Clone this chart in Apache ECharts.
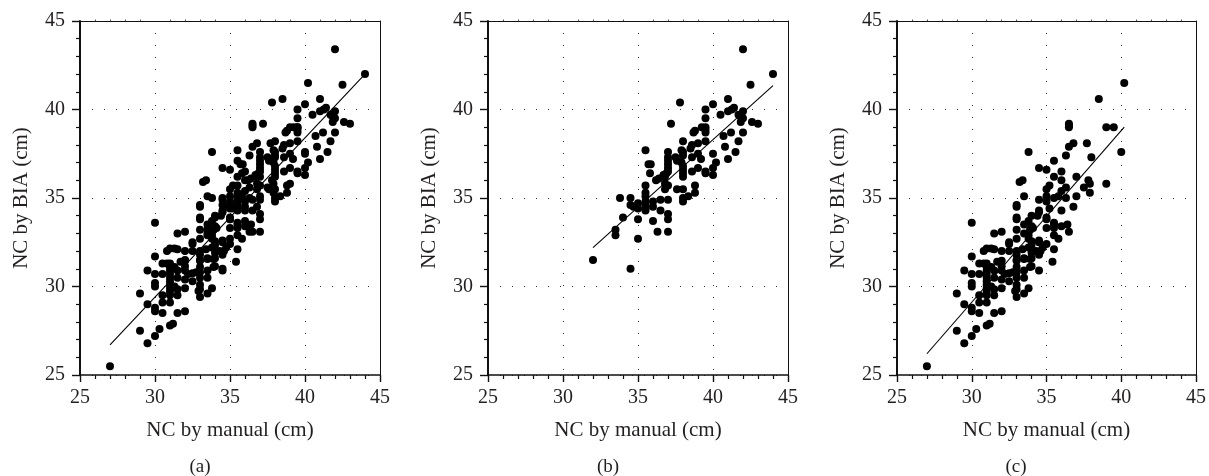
<!DOCTYPE html>
<html><head><meta charset="utf-8">
<script src="https://cdn.jsdelivr.net/npm/echarts@6/dist/echarts.min.js"></script>
<style>html,body{margin:0;padding:0;background:#fff}#c{width:1209px;height:476px}</style>
</head><body><div id="c"></div>
<script>
const pointsB=[[42,43.4],[44,42],[42.5,41.4],[37.8,40.4],[41,40.6],[40,40.3],[39.5,40],[41.4,40.1],[41.25,40],[41,39.9],[42,39.9],[40.5,39.7],[41.7,39.7],[41.85,39.6],[39.5,39.5],[42,39.5],[41.85,39.3],[42.6,39.3],[43,39.2],[37.2,39.2],[39.25,39],[39.5,39],[39.5,38.85],[38.8,38.8],[38.7,38.7],[39.5,38.7],[40.7,38.5],[41.2,38.7],[42,38.7],[41.7,38.2],[38,38.2],[39.5,38.2],[39,38.1],[38.6,38],[38.5,37.8],[40.8,37.9],[41.5,37.6],[41,37.2],[35.5,37.7],[37,37.6],[37.9,37.7],[38,37.6],[38,37.4],[39,37.5],[40,37.5],[38.6,37.3],[39.2,37.2],[37.5,37.3],[37.6,37.1],[37.9,37],[37,37.3],[37,37.1],[37,36.9],[37,36.7],[37,36.5],[40.2,37],[40,36.7],[39,36.7],[38.6,36.5],[39.5,36.5],[39.5,36.4],[40,36.3],[35.7,36.9],[35.85,36.9],[35.8,36.4],[38,36.8],[38,36.6],[38,36.4],[38,36.2],[36.2,36],[36.4,36.1],[36.7,36.3],[36.9,36.4],[36.8,36.2],[36.8,35.8],[37,35.7],[36.8,35.5],[37.6,35.5],[38,35.5],[38.8,35.7],[38.8,35.3],[38.35,35.1],[38,35],[38,34.8],[37,34.9],[36.5,34.9],[35.5,35.7],[35.5,35.3],[35.5,35.1],[33.8,35],[34.5,35],[34.5,34.6],[34.7,34.5],[35,34.7],[35,34.4],[35.5,34.8],[35.5,34.6],[35.5,34.4],[35.5,34.3],[36,34.8],[36,34.5],[36.5,34.3],[37,34.1],[37,33.8],[34,33.9],[35,33.8],[36,33.7],[36.3,33.1],[37,33.1],[33.5,33.2],[33.5,32.9],[35,32.7],[32,31.5],[34.5,31]];
const pointsC=[[40.2,41.5],[38.5,40.6],[39,39],[39.5,39],[40,37.6],[36.5,39.2],[36.5,39.1],[36.5,39],[36.5,37.9],[36.8,38.1],[37.7,38.1],[38,37.3],[36.3,37.4],[35.5,37.1],[34.5,36.7],[35,36.6],[33.8,37.6],[36,36.5],[37,36.2],[35.5,36.2],[36,36],[37.8,36],[37.9,35.8],[39,35.8],[37.5,35.6],[37.9,35.3],[37,35.1],[36.3,35.6],[36,35.4],[36.3,35],[35.5,35],[35.8,35.1],[35.2,35.7],[35,35.5],[35,35.1],[35,34.8],[34.5,34.9],[33.2,35.9],[33.4,36],[33.5,35.1],[33,34.6],[33,34.5],[36.8,34.5],[36,34.3],[35.2,34.4],[34.5,34.3],[34.5,34.2],[34.4,34],[34,34],[35,33.9],[35,33.8],[33,33.9],[33,33.8],[33.8,33.7],[33.5,33.5],[35.5,33.6],[35.5,33.5],[30,33.6],[36.4,33.5],[36,33.4],[35.5,33.3],[35,33.3],[34,33.4],[34.1,33.3],[33.9,33.2],[36.5,33.1],[33,33.2],[33.5,33],[31.5,33],[32,33.1],[35.5,32.9],[35.8,32.7],[33,32.7],[32.5,32.5],[32.5,32.4],[33.8,32.9],[33.8,32.7],[34.5,32.6],[34,32.55],[35,32.4],[34.5,32.5],[34.75,32.2],[35.5,32.1],[35.4,31.4],[34.3,32],[34.5,31.8],[34.6,32],[34,32.35],[33.8,32.2],[33.4,32.1],[33.9,31.1],[34.5,30.9],[33,32],[33,31.8],[33,31.5],[33.5,31.6],[34,31.6],[34,31.9],[34,31.15],[33.9,31.55],[29,29.6],[29.5,30.9],[30,30.7],[30.5,30.7],[30,30.2],[30,30],[30.5,29.5],[30.5,29.1],[31,29.1],[29.5,29],[30,28.8],[30,28.6],[30.5,28.5],[31.5,28.5],[32,28.6],[29,27.5],[30.3,27.6],[31,27.8],[31.2,27.9],[30,27.2],[29.5,26.8],[27,25.5],[30,31.7],[30.8,32],[31,32.15],[31.3,32.15],[31.5,32.1],[32,32],[32.5,32],[30.5,31.3],[30.8,31.3],[31,31.3],[31,31.1],[31,30.9],[31,30.7],[31,30.5],[31,30.3],[31,30.1],[31,29.9],[31,29.7],[31,29.5],[31.3,31.1],[31.7,31.4],[32,31.45],[31.5,30.9],[32,31.15],[32,30.9],[31.5,30.5],[32,30.4],[31.3,30],[31.5,29.85],[31.5,29.5],[32,29.9],[32.5,30.3],[33,31.1],[33,30.8],[33,30.5],[32.75,30.8],[32.5,30.75],[32.2,30.7],[33,30.1],[33,29.85],[32.9,29.75],[33,29.4],[33.5,29.6],[33.8,29.9],[33.5,30.9],[33.5,30.5],[33,31.45],[33.5,31.55]];
const pointsA=pointsB.concat(pointsC);
const fitA=[[27,26.7],[44,42]];
const fitB=[[32,32.2],[44,41.35]];
const fitC=[[27,26.2],[40.2,39]];
const xTitle='NC by manual (cm)';
const yTitle='NC by BIA (cm)';
const captions=['(a)','(b)','(c)'];
const gridLefts=[80,488,897];
const captionX=[200,608,1016];
const panels=[[pointsA,fitA],[pointsB,fitB],[pointsC,fitC]];
const font='"Liberation Serif",serif', ink='#231f20';
const grids=[],xs=[],ys=[],series=[],titles=[];
function fmtLine(w){return {show:true,onZero:false,lineStyle:{color:'#111',width:w}};}
panels.forEach((p,i)=>{
  grids.push({left:gridLefts[i],top:21,width:300,height:354});
  const split={show:true,lineStyle:{color:'#333',width:1,type:[1,11]}};
  const base={min:25,max:45,interval:5,splitNumber:4,gridIndex:i,type:'value'};
  xs.push({...base,position:'bottom',axisLine:fmtLine(1.5),
    axisTick:{show:true,length:7,lineStyle:{color:'#111',width:1.4}},
    minorTick:{show:true,splitNumber:5,length:4,lineStyle:{color:'#111',width:1.2}},
    splitLine:split,minorSplitLine:{show:false},
    axisLabel:{show:true,color:ink,fontFamily:font,fontSize:20,margin:13,showMinLabel:true,showMaxLabel:true,hideOverlap:false},
    name:xTitle,nameLocation:'middle',nameGap:45,nameTextStyle:{color:ink,fontFamily:font,fontSize:21}});
  ys.push({...base,position:'left',axisLine:fmtLine(2),
    axisTick:{show:true,length:8,lineStyle:{color:'#111',width:1.4}},
    minorTick:{show:true,splitNumber:5,length:4,lineStyle:{color:'#111',width:1.2}},
    splitLine:split,minorSplitLine:{show:false},
    axisLabel:{show:true,color:ink,fontFamily:font,fontSize:20,margin:15,showMinLabel:true,showMaxLabel:true,hideOverlap:false},
    name:yTitle,nameLocation:'middle',nameGap:48,nameTextStyle:{color:ink,fontFamily:font,fontSize:21}});
  // frame: mirrored top and right axes
  const mirror={...base,axisLabel:{show:false},splitLine:{show:false},axisLine:fmtLine(1)};
  xs.push({...mirror,position:'top',axisTick:{show:false},minorTick:{show:true,splitNumber:5,length:1.5,lineStyle:{color:'#555',width:1}}});
  ys.push({...mirror,position:'right',axisTick:{show:false},minorTick:{show:false}});
  const xi=xs.length-2, yi=ys.length-2;
  series.push({type:'scatter',xAxisIndex:xi,yAxisIndex:yi,data:p[0],symbol:'circle',symbolSize:8,itemStyle:{color:'#000',opacity:1},silent:true,z:3,animation:false});
  series.push({type:'line',xAxisIndex:xi,yAxisIndex:yi,data:p[1],symbol:'none',lineStyle:{color:'#000',width:1.1},silent:true,z:4,animation:false});
  titles.push({text:captions[i],left:captionX[i],top:458,textAlign:'center',textStyle:{color:ink,fontFamily:font,fontSize:19,fontWeight:'normal'},padding:0});
});
const chart=echarts.init(document.getElementById('c'),null,{renderer:'canvas'});
chart.setOption({animation:false,backgroundColor:'#fff',title:titles,grid:grids,xAxis:xs,yAxis:ys,series:series});
</script></body></html>
